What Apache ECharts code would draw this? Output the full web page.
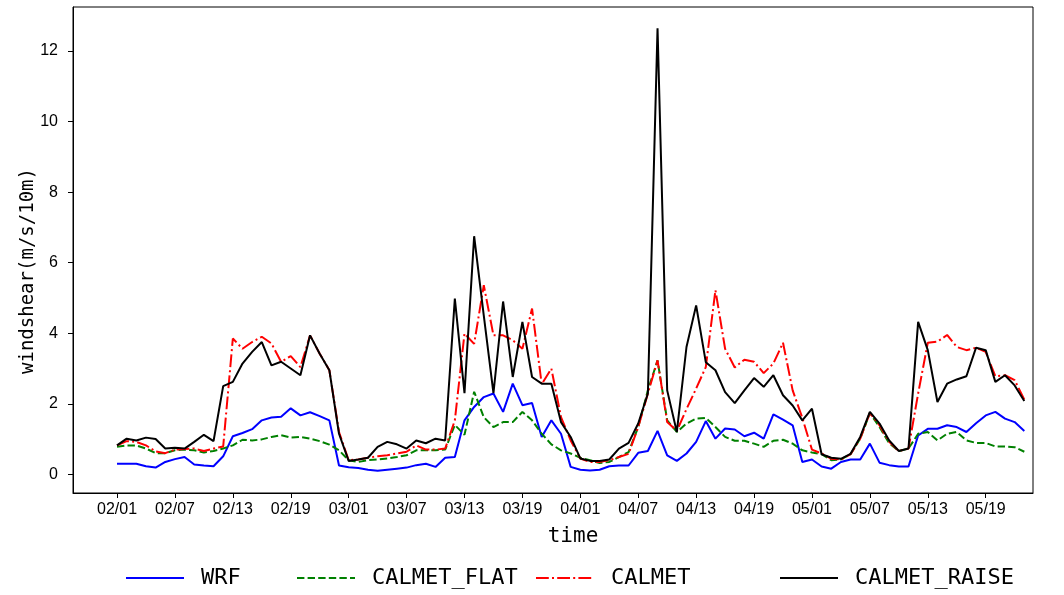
<!DOCTYPE html>
<html>
<head>
<meta charset="utf-8">
<script src="https://cdn.jsdelivr.net/npm/echarts@6/dist/echarts.min.js"></script>
<style>
html,body{margin:0;padding:0;background:#fff;}
#chart{width:1064px;height:595px;}
</style>
</head>
<body>
<div id="chart"></div>
<script>
// Tick labels on the x axis (one every 6 samples)
const tickLabels = ['02/01','02/07','02/13','02/19','03/01','03/07','03/13','03/19','04/01','04/07','04/13','04/19','05/01','05/07','05/13','05/19'];
const tickStep = 6;

const WRF = [0.30,0.30,0.30,0.23,0.19,0.35,0.43,0.49,0.28,0.25,0.23,0.51,1.08,1.17,1.28,1.53,1.61,1.63,1.87,1.67,1.76,1.65,1.53,0.25,0.20,
  0.18,0.13,0.10,0.13,0.16,0.19,0.26,0.30,0.21,0.47,0.49,1.53,1.91,2.19,2.29,1.77,2.57,1.96,2.02,1.06,1.53,1.15,0.21,0.13,
  0.11,0.13,0.23,0.25,0.25,0.61,0.66,1.23,0.54,0.38,0.59,0.92,1.51,1.01,1.30,1.27,1.08,1.18,1.01,1.70,1.55,1.39,0.35,0.42,
  0.22,0.16,0.35,0.42,0.42,0.87,0.33,0.26,0.22,0.22,1.10,1.29,1.29,1.39,1.34,1.20,1.45,1.67,1.77,1.58,1.48,1.23];

const CALMET_FLAT = [0.78,0.82,0.82,0.73,0.60,0.60,0.68,0.70,0.68,0.62,0.66,0.73,0.82,0.98,0.96,0.99,1.06,1.11,1.04,1.06,1.01,0.94,0.84,0.68,0.40,
  0.35,0.40,0.42,0.45,0.49,0.54,0.68,0.68,0.68,0.70,1.40,1.12,2.34,1.62,1.34,1.48,1.48,1.77,1.53,1.15,0.85,0.68,0.59,0.47,
  0.40,0.32,0.35,0.49,0.63,1.34,2.38,3.23,1.53,1.20,1.44,1.58,1.60,1.34,1.06,0.95,0.95,0.87,0.78,0.95,0.98,0.87,0.68,0.62,
  0.57,0.40,0.42,0.57,1.01,1.74,1.34,0.88,0.66,0.73,1.15,1.20,0.96,1.15,1.20,0.96,0.89,0.89,0.79,0.79,0.77,0.64];

const CALMET = [0.82,0.94,0.92,0.82,0.65,0.60,0.70,0.72,0.73,0.66,0.73,0.79,3.85,3.56,3.75,3.90,3.71,3.19,3.35,3.04,3.94,3.42,2.95,1.20,0.40,
  0.42,0.47,0.51,0.54,0.59,0.64,0.82,0.70,0.70,0.73,1.53,3.99,3.70,5.36,3.94,3.94,3.80,3.56,4.70,2.55,3.00,1.62,0.96,0.45,
  0.35,0.35,0.40,0.49,0.58,1.34,2.29,3.23,1.48,1.23,1.85,2.43,3.04,5.22,3.56,3.03,3.25,3.19,2.87,3.14,3.73,2.38,1.60,0.70,
  0.59,0.44,0.42,0.57,1.01,1.74,1.39,0.92,0.66,0.73,2.29,3.73,3.76,3.95,3.61,3.52,3.59,3.47,2.78,2.81,2.67,2.12];

const CALMET_RAISE = [0.82,1.01,0.96,1.04,1.00,0.73,0.75,0.73,0.92,1.12,0.94,2.50,2.62,3.14,3.47,3.75,3.09,3.19,3.00,2.81,3.94,3.42,2.95,1.15,0.38,
  0.42,0.47,0.78,0.92,0.85,0.73,0.96,0.88,1.01,0.96,4.98,2.30,6.75,4.50,2.30,4.90,2.76,4.32,2.76,2.57,2.57,1.48,1.06,0.45,
  0.38,0.38,0.42,0.73,0.89,1.44,2.29,12.65,2.38,1.20,3.61,4.79,3.18,2.95,2.33,2.02,2.38,2.73,2.48,2.81,2.24,1.95,1.53,1.86,
  0.57,0.47,0.44,0.58,1.06,1.77,1.44,0.96,0.66,0.73,4.32,3.52,2.05,2.57,2.69,2.78,3.59,3.52,2.62,2.81,2.52,2.08];

const yTicks = [0,2,4,6,8,10,12];

const seriesDefs = [
  {name:'WRF', data:WRF, color:'#0000ff', type:'solid'},
  {name:'CALMET_FLAT', data:CALMET_FLAT, color:'#008000', type:[7.4,3.2]},
  {name:'CALMET', data:CALMET, color:'#ff0000', type:[12.8,3.2,2,3.2]},
  {name:'CALMET_RAISE', data:CALMET_RAISE, color:'#000000', type:'solid'}
];
const legendLeft = [125, 296, 535, 779];

const chart = echarts.init(document.getElementById('chart'), null, {renderer:'canvas'});
const tickFont = {fontFamily:'Liberation Sans, Arial, sans-serif', fontSize:16, color:'#000'};
const labelFont = 'DejaVu Sans Mono, monospace';

const option = {
  backgroundColor:'#fff',
  animation:false,
  grid:{left:73, right:31, top:7, bottom:102, show:true, borderColor:'#000', borderWidth:1, backgroundColor:'transparent'},
  legend: seriesDefs.map((s,i)=>({
    show:true, orient:'horizontal', padding:0,
    data:[s.name], left:legendLeft[i], top:567, itemWidth:58, itemHeight:14, itemGap:0,
    itemStyle:{opacity:0},
    textStyle:{fontFamily:labelFont, fontSize:22, color:'#000', padding:[0,0,0,12]}
  })),
  xAxis:{
    type:'value', min:-4.56, max:94.9,
    name:'time', nameLocation:'middle', nameGap:33, nameMoveOverlap:false,
    nameTextStyle:{fontFamily:labelFont, fontSize:21, color:'#000', padding:[0,0,0,40]},
    axisLine:{show:true, onZero:false, lineStyle:{color:'#000', width:1}},
    axisTick:{show:true, length:5, customValues: tickLabels.map((_,i)=>i*tickStep), lineStyle:{color:'#000'}},
    axisLabel:{show:true, margin:9, customValues: tickLabels.map((_,i)=>i*tickStep),
      formatter:v=>tickLabels[Math.round(v/tickStep)] || '', ...tickFont},
    splitLine:{show:false}
  },
  yAxis:{
    type:'value', min:-0.53, max:13.25,
    name:'windshear(m/s/10m)', nameLocation:'middle', nameRotate:90, nameGap:35, nameMoveOverlap:false,
    nameTextStyle:{fontFamily:labelFont, fontSize:19, color:'#000', padding:[0,42,0,0]},
    axisLine:{show:true, onZero:false, lineStyle:{color:'#000', width:1}},
    axisTick:{show:true, length:5, customValues:yTicks, lineStyle:{color:'#000'}},
    axisLabel:{show:true, margin:15, customValues:yTicks, ...tickFont},
    splitLine:{show:false}
  },
  series: seriesDefs.map(s=>({
    name:s.name, type:'line', symbol:'none', showSymbol:false,
    data:s.data.map((v,i)=>[i,v]),
    lineStyle:{color:s.color, width:2, type:s.type},
    itemStyle:{color:s.color},
    emphasis:{disabled:true}
  }))
};
chart.setOption(option);
</script>
</body>
</html>
